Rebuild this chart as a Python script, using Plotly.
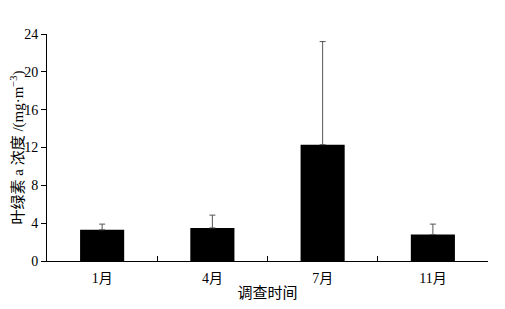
import plotly.graph_objects as go

months = ["1月", "4月", "7月", "11月"]
chl_a = [3.3, 3.5, 12.3, 2.8]
err_plus = [0.6, 1.35, 10.9, 1.1]
y_ticks = [0, 4, 8, 12, 16, 20, 24]

FONT = "Liberation Serif, Times New Roman, Noto Sans CJK SC, serif"

fig = go.Figure()
fig.add_trace(go.Bar(
    x=months, y=chl_a,
    marker=dict(color="black", line=dict(width=0)),
    width=0.4,
    error_y=dict(type="data", array=err_plus, arrayminus=[0]*4, symmetric=False,
                 color="#555555", thickness=1, width=3),
))
fig.update_layout(
    width=497, height=301,
    margin=dict(l=39, r=17, t=26, b=48, autoexpand=False),
    plot_bgcolor="white", paper_bgcolor="white",
    showlegend=False,
    font=dict(family=FONT, size=14, color="black"),
    xaxis=dict(
        type="category", tickson="boundaries", ticks="inside", ticklen=5,
        tickcolor="black", showline=True, linecolor="black", linewidth=1,
        showgrid=False, range=[-0.5, 3.5],
        title=dict(text="调查时间", font=dict(size=15), standoff=2),
        tickfont=dict(size=14), ticklabelstandoff=4,
    ),
    yaxis=dict(
        range=[0, 24], tickvals=y_ticks, ticks="outside", ticklen=5,
        tickcolor="black", showline=True, linecolor="black", linewidth=1,
        showgrid=False, zeroline=False,
        title=dict(text="叶绿素 a 浓度 /(mg·m<sup>−3</sup>)", font=dict(size=15), standoff=4),
        tickfont=dict(size=14),
    ),
)
fig.write_html("out.html")
